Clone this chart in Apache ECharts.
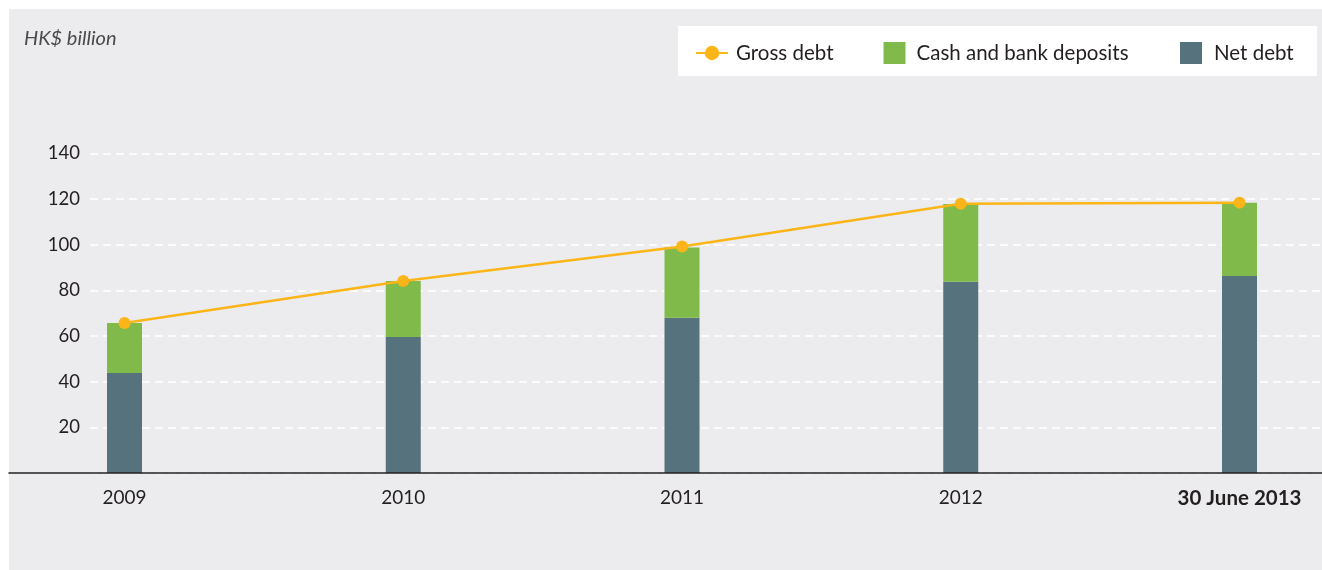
<!DOCTYPE html>
<html>
<head>
<meta charset="utf-8">
<script src="https://cdn.jsdelivr.net/npm/echarts@6/dist/echarts.min.js"></script>
<style>
  html, body { margin: 0; padding: 0; background: #ffffff; }
  #wrap { position: relative; width: 1322px; height: 570px; }
  #panel { position: absolute; left: 9px; top: 9px; right: 0; bottom: 0; background: #ececee; }
  #chart { position: absolute; left: 0; top: 0; width: 1322px; height: 570px; }
</style>
</head>
<body>
<div id="wrap">
  <div id="panel"></div>
  <div id="chart"></div>
</div>
<script>
// Debt position, HK$ billion
const periods = ['2009', '2010', '2011', '2012', '30 June 2013'];
const netDebt = [43.8, 59.6, 68.0, 83.7, 86.3];
const cashDeposits = [21.9, 24.5, 30.7, 34.1, 32.1];
const grossDebt = [65.7, 84.1, 99.2, 117.9, 118.4];
const yMax = 140;
const yStep = 20;

const FONT = 'Lato, "Open Sans", sans-serif';
const INK = '#231f20';
const GOLD = '#fbb518';
const GREEN = '#80ba4a';
const SLATE = '#56737d';

const plotTop = 153.3;
const plotBottom = 97;

const chart = echarts.init(document.getElementById('chart'), null, { renderer: 'canvas' });

const legendText = { fontFamily: FONT, fontSize: 20.5, color: INK, lineHeight: 22 };

chart.setOption({
  backgroundColor: 'transparent',
  animation: false,
  title: {
    text: 'HK$ billion',
    left: 19, top: 24, padding: 5,
    textStyle: { fontFamily: FONT, fontSize: 20, fontStyle: 'italic', fontWeight: 'normal', color: '#4a4a4c' }
  },
  graphic: [{
    type: 'rect', z: 0,
    shape: { x: 678, y: 26, width: 639, height: 50 },
    style: { fill: '#ffffff' }
  }],
  legend: [
    { data: ['Gross debt'], left: 690, top: 37, itemWidth: 32, itemHeight: 18, selectedMode: false,
      textStyle: Object.assign({ padding: [0, 0, 0, 3] }, legendText) },
    { data: ['Cash and bank deposits'], left: 878.5, top: 37, itemWidth: 22, itemHeight: 22, selectedMode: false,
      icon: 'rect', textStyle: Object.assign({ padding: [0, 0, 0, 6] }, legendText) },
    { data: ['Net debt'], left: 1175, top: 37, itemWidth: 22, itemHeight: 22, selectedMode: false,
      icon: 'rect', textStyle: Object.assign({ padding: [0, 0, 0, 7] }, legendText) }
  ],
  grid: [
    // baseline across the panel
    { left: 9, right: 0, top: plotTop, bottom: plotBottom },
    // value scale and dashed guides
    { left: 90, right: 0, top: plotTop, bottom: plotBottom },
    // data
    { left: 124.5, right: 82.5, top: plotTop, bottom: plotBottom }
  ],
  xAxis: [
    { gridIndex: 0, type: 'category', data: [''], z: 5,
      axisLine: { show: true, lineStyle: { color: INK, width: 1.5 } },
      axisTick: { show: false }, axisLabel: { show: false }, splitLine: { show: false } },
    { gridIndex: 1, type: 'category', data: [''], show: false },
    { gridIndex: 2, type: 'category', data: periods, boundaryGap: false,
      axisLine: { show: false }, axisTick: { show: false }, splitLine: { show: false },
      axisLabel: {
        margin: 15, fontFamily: FONT, fontSize: 19, color: INK, interval: 0,
        formatter: (v, i) => i === periods.length - 1 ? '{b|' + v + '}' : v,
        rich: { b: { fontFamily: FONT, fontSize: 20.5, fontWeight: 'bold', color: INK } }
      } }
  ],
  yAxis: [
    { gridIndex: 0, type: 'value', min: 0, max: yMax, interval: yStep, show: false },
    { gridIndex: 1, type: 'value', min: 0, max: yMax, interval: yStep,
      axisLine: { show: false }, axisTick: { show: false },
      axisLabel: { margin: 10, fontFamily: FONT, fontSize: 18.5, color: INK,
        formatter: v => v === 0 ? '' : String(v) },
      splitLine: { show: true, lineStyle: { color: '#ffffff', width: 1.5, type: [8, 5] } } },
    { gridIndex: 2, type: 'value', min: 0, max: yMax, interval: yStep, show: false }
  ],
  series: [
    { name: 'Net debt', type: 'bar', stack: 'debt', xAxisIndex: 2, yAxisIndex: 2,
      barWidth: 35, itemStyle: { color: SLATE }, data: netDebt },
    { name: 'Cash and bank deposits', type: 'bar', stack: 'debt', xAxisIndex: 2, yAxisIndex: 2,
      barWidth: 35, itemStyle: { color: GREEN }, data: cashDeposits },
    { name: 'Gross debt', type: 'line', xAxisIndex: 2, yAxisIndex: 2, z: 5,
      symbol: 'circle', symbolSize: 12,
      lineStyle: { color: GOLD, width: 2.5 }, itemStyle: { color: GOLD },
      data: grossDebt }
  ]
});
</script>
</body>
</html>
